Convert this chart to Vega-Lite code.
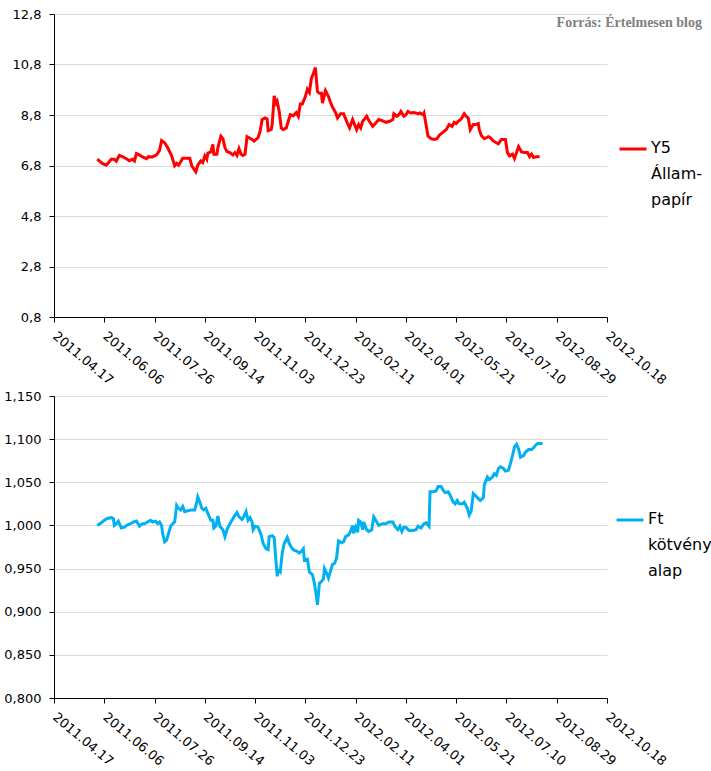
{
  "$schema": "https://vega.github.io/schema/vega-lite/v6.json",
  "padding": {"left": 3, "top": 8, "right": 4, "bottom": 4},
  "background": "white",
  "config": {
    "view": {"stroke": null},
    "axis": {
      "labelFont": "DejaVu Sans",
      "labelColor": "#000000",
      "domainColor": "#000000",
      "tickColor": "#000000",
      "tickSize": 5,
      "gridColor": "#D9D9D9",
      "title": null
    },
    "legend": {
      "labelFont": "DejaVu Sans",
      "labelFontSize": 16,
      "labelColor": "#000000",
      "padding": 0
    }
  },
  "datasets": {
    "y5": [
      {"d":"2011-05-30","v":7.05},{"d":"2011-06-04","v":6.88},{"d":"2011-06-08","v":6.81},{"d":"2011-06-13","v":7.05},{"d":"2011-06-16","v":7.05},{"d":"2011-06-18","v":6.97},{"d":"2011-06-21","v":7.20},{"d":"2011-06-24","v":7.15},{"d":"2011-06-28","v":7.07},{"d":"2011-07-01","v":6.99},{"d":"2011-07-04","v":7.05},{"d":"2011-07-06","v":6.98},{"d":"2011-07-08","v":7.27},{"d":"2011-07-11","v":7.22},{"d":"2011-07-14","v":7.14},{"d":"2011-07-18","v":7.07},{"d":"2011-07-20","v":7.15},{"d":"2011-07-24","v":7.14},{"d":"2011-07-28","v":7.22},{"d":"2011-07-31","v":7.40},
      {"d":"2011-08-02","v":7.79},{"d":"2011-08-05","v":7.70},{"d":"2011-08-08","v":7.51},{"d":"2011-08-12","v":7.18},{"d":"2011-08-15","v":6.79},{"d":"2011-08-17","v":6.88},{"d":"2011-08-19","v":6.81},{"d":"2011-08-23","v":7.09},{"d":"2011-08-27","v":7.09},{"d":"2011-08-30","v":7.09},{"d":"2011-09-01","v":6.79},{"d":"2011-09-05","v":6.55},{"d":"2011-09-07","v":6.81},{"d":"2011-09-10","v":6.98},{"d":"2011-09-12","v":6.92},{"d":"2011-09-14","v":7.18},{"d":"2011-09-16","v":7.05},{"d":"2011-09-17","v":7.29},{"d":"2011-09-20","v":7.34},{"d":"2011-09-22","v":7.64},{"d":"2011-09-23","v":7.25},{"d":"2011-09-26","v":7.25},{"d":"2011-09-27","v":7.51},{"d":"2011-09-30","v":7.96},
      {"d":"2011-10-02","v":7.86},{"d":"2011-10-04","v":7.51},{"d":"2011-10-06","v":7.35},{"d":"2011-10-09","v":7.31},{"d":"2011-10-12","v":7.22},{"d":"2011-10-14","v":7.31},{"d":"2011-10-16","v":7.20},{"d":"2011-10-18","v":7.47},{"d":"2011-10-20","v":7.25},{"d":"2011-10-22","v":7.20},{"d":"2011-10-24","v":7.25},{"d":"2011-10-26","v":7.94},{"d":"2011-10-31","v":7.83},{"d":"2011-11-02","v":7.77},{"d":"2011-11-06","v":7.90},{"d":"2011-11-08","v":8.16},{"d":"2011-11-10","v":8.62},{"d":"2011-11-13","v":8.68},{"d":"2011-11-15","v":8.64},{"d":"2011-11-16","v":8.18},{"d":"2011-11-19","v":8.22},{"d":"2011-11-20","v":8.42},{"d":"2011-11-22","v":9.56},{"d":"2011-11-24","v":9.27},{"d":"2011-11-25","v":9.34},{"d":"2011-11-27","v":8.94},{"d":"2011-11-29","v":8.29},
      {"d":"2011-12-01","v":8.22},{"d":"2011-12-04","v":8.29},{"d":"2011-12-06","v":8.55},{"d":"2011-12-08","v":8.81},{"d":"2011-12-11","v":8.77},{"d":"2011-12-14","v":8.90},{"d":"2011-12-16","v":8.75},{"d":"2011-12-18","v":9.24},{"d":"2011-12-20","v":9.24},{"d":"2011-12-23","v":9.53},{"d":"2011-12-25","v":9.82},{"d":"2011-12-27","v":9.69},{"d":"2011-12-29","v":10.25},{"d":"2011-12-31","v":10.45},{"d":"2012-01-02","v":10.68},{"d":"2012-01-04","v":9.73},{"d":"2012-01-06","v":9.66},{"d":"2012-01-08","v":9.66},{"d":"2012-01-09","v":9.27},{"d":"2012-01-12","v":9.77},{"d":"2012-01-15","v":9.53},{"d":"2012-01-17","v":9.30},{"d":"2012-01-19","v":9.11},{"d":"2012-01-22","v":8.90},{"d":"2012-01-24","v":8.68},{"d":"2012-01-27","v":8.85},{"d":"2012-01-30","v":8.85},
      {"d":"2012-02-03","v":8.46},{"d":"2012-02-05","v":8.29},{"d":"2012-02-08","v":8.62},{"d":"2012-02-10","v":8.42},{"d":"2012-02-12","v":8.22},{"d":"2012-02-14","v":8.42},{"d":"2012-02-16","v":8.29},{"d":"2012-02-18","v":8.55},{"d":"2012-02-22","v":8.75},{"d":"2012-02-24","v":8.59},{"d":"2012-02-28","v":8.35},{"d":"2012-03-02","v":8.48},{"d":"2012-03-05","v":8.62},{"d":"2012-03-09","v":8.57},{"d":"2012-03-12","v":8.51},{"d":"2012-03-16","v":8.55},{"d":"2012-03-19","v":8.62},{"d":"2012-03-20","v":8.85},{"d":"2012-03-23","v":8.75},{"d":"2012-03-25","v":8.81},{"d":"2012-03-27","v":8.94},{"d":"2012-03-30","v":8.75},
      {"d":"2012-04-01","v":8.81},{"d":"2012-04-03","v":8.94},{"d":"2012-04-06","v":8.88},{"d":"2012-04-09","v":8.90},{"d":"2012-04-13","v":8.85},{"d":"2012-04-15","v":8.88},{"d":"2012-04-18","v":8.81},{"d":"2012-04-19","v":8.88},{"d":"2012-04-21","v":8.42},{"d":"2012-04-23","v":7.96},{"d":"2012-04-26","v":7.86},{"d":"2012-04-29","v":7.83},{"d":"2012-05-02","v":7.86},{"d":"2012-05-04","v":7.99},{"d":"2012-05-08","v":8.12},{"d":"2012-05-11","v":8.22},{"d":"2012-05-14","v":8.42},{"d":"2012-05-17","v":8.35},{"d":"2012-05-19","v":8.51},{"d":"2012-05-21","v":8.46},{"d":"2012-05-23","v":8.55},{"d":"2012-05-26","v":8.64},{"d":"2012-05-29","v":8.85},{"d":"2012-05-31","v":8.75},
      {"d":"2012-06-02","v":8.68},{"d":"2012-06-04","v":8.22},{"d":"2012-06-07","v":8.42},{"d":"2012-06-09","v":8.42},{"d":"2012-06-12","v":8.46},{"d":"2012-06-13","v":8.22},{"d":"2012-06-15","v":7.99},{"d":"2012-06-18","v":7.86},{"d":"2012-06-22","v":7.94},{"d":"2012-06-24","v":7.90},{"d":"2012-06-27","v":7.77},{"d":"2012-06-30","v":7.70},{"d":"2012-07-02","v":7.66},{"d":"2012-07-05","v":7.83},{"d":"2012-07-09","v":7.83},{"d":"2012-07-11","v":7.31},{"d":"2012-07-13","v":7.18},{"d":"2012-07-16","v":7.25},{"d":"2012-07-18","v":7.08},{"d":"2012-07-20","v":7.31},{"d":"2012-07-22","v":7.55},{"d":"2012-07-25","v":7.34},{"d":"2012-07-28","v":7.31},{"d":"2012-07-31","v":7.31},{"d":"2012-08-02","v":7.15},{"d":"2012-08-04","v":7.25},{"d":"2012-08-06","v":7.12},{"d":"2012-08-09","v":7.15},{"d":"2012-08-12","v":7.15}
    ],
    "ft": [
      {"d":"2011-05-30","v":1.000},{"d":"2011-06-03","v":1.003},{"d":"2011-06-06","v":1.006},{"d":"2011-06-09","v":1.008},{"d":"2011-06-13","v":1.009},{"d":"2011-06-15","v":1.008},{"d":"2011-06-16","v":1.000},{"d":"2011-06-18","v":1.002},{"d":"2011-06-20","v":1.005},{"d":"2011-06-23","v":0.997},{"d":"2011-06-26","v":0.998},{"d":"2011-06-28","v":1.000},{"d":"2011-07-02","v":1.002},{"d":"2011-07-05","v":1.004},{"d":"2011-07-08","v":1.005},{"d":"2011-07-11","v":0.999},{"d":"2011-07-14","v":1.002},{"d":"2011-07-16","v":1.002},{"d":"2011-07-19","v":1.004},{"d":"2011-07-22","v":1.006},{"d":"2011-07-24","v":1.004},{"d":"2011-07-27","v":1.005},{"d":"2011-07-29","v":1.002},{"d":"2011-07-31","v":1.004},
      {"d":"2011-08-02","v":1.000},{"d":"2011-08-03","v":0.991},{"d":"2011-08-05","v":0.981},{"d":"2011-08-07","v":0.983},{"d":"2011-08-09","v":0.991},{"d":"2011-08-11","v":0.999},{"d":"2011-08-13","v":1.002},{"d":"2011-08-15","v":1.004},{"d":"2011-08-17","v":1.023},{"d":"2011-08-18","v":1.021},{"d":"2011-08-21","v":1.018},{"d":"2011-08-23","v":1.022},{"d":"2011-08-25","v":1.016},{"d":"2011-08-28","v":1.017},{"d":"2011-09-01","v":1.018},{"d":"2011-09-04","v":1.018},{"d":"2011-09-06","v":1.027},{"d":"2011-09-07","v":1.033},{"d":"2011-09-09","v":1.027},{"d":"2011-09-11","v":1.020},{"d":"2011-09-13","v":1.018},{"d":"2011-09-15","v":1.020},{"d":"2011-09-17","v":1.014},{"d":"2011-09-20","v":1.006},{"d":"2011-09-22","v":1.006},{"d":"2011-09-23","v":0.997},{"d":"2011-09-25","v":0.999},{"d":"2011-09-27","v":1.011},{"d":"2011-09-29","v":0.999},
      {"d":"2011-10-02","v":0.995},{"d":"2011-10-04","v":0.987},{"d":"2011-10-06","v":0.995},{"d":"2011-10-08","v":1.000},{"d":"2011-10-11","v":1.006},{"d":"2011-10-13","v":1.010},{"d":"2011-10-16","v":1.015},{"d":"2011-10-18","v":1.010},{"d":"2011-10-21","v":1.007},{"d":"2011-10-23","v":1.011},{"d":"2011-10-25","v":1.016},{"d":"2011-10-27","v":1.006},{"d":"2011-10-29","v":1.009},{"d":"2011-10-31","v":1.004},{"d":"2011-11-01","v":0.995},{"d":"2011-11-03","v":0.999},{"d":"2011-11-06","v":0.998},{"d":"2011-11-09","v":0.989},{"d":"2011-11-11","v":0.979},{"d":"2011-11-14","v":0.973},{"d":"2011-11-16","v":0.972},{"d":"2011-11-17","v":0.987},{"d":"2011-11-20","v":0.988},{"d":"2011-11-22","v":0.986},{"d":"2011-11-23","v":0.970},{"d":"2011-11-25","v":0.941},{"d":"2011-11-26","v":0.948},{"d":"2011-11-28","v":0.946},{"d":"2011-11-30","v":0.968},
      {"d":"2011-12-02","v":0.979},{"d":"2011-12-05","v":0.986},{"d":"2011-12-07","v":0.979},{"d":"2011-12-10","v":0.973},{"d":"2011-12-12","v":0.971},{"d":"2011-12-15","v":0.970},{"d":"2011-12-17","v":0.968},{"d":"2011-12-19","v":0.970},{"d":"2011-12-21","v":0.973},{"d":"2011-12-22","v":0.960},{"d":"2011-12-25","v":0.961},{"d":"2011-12-27","v":0.946},{"d":"2011-12-30","v":0.943},{"d":"2012-01-01","v":0.933},{"d":"2012-01-03","v":0.918},{"d":"2012-01-04","v":0.908},{"d":"2012-01-06","v":0.933},{"d":"2012-01-08","v":0.935},{"d":"2012-01-10","v":0.938},{"d":"2012-01-11","v":0.950},{"d":"2012-01-13","v":0.945},{"d":"2012-01-15","v":0.939},{"d":"2012-01-17","v":0.947},{"d":"2012-01-19","v":0.955},{"d":"2012-01-21","v":0.956},{"d":"2012-01-23","v":0.962},{"d":"2012-01-25","v":0.982},{"d":"2012-01-28","v":0.980},{"d":"2012-01-30","v":0.981},
      {"d":"2012-02-01","v":0.987},{"d":"2012-02-04","v":0.989},{"d":"2012-02-06","v":0.993},{"d":"2012-02-08","v":1.000},{"d":"2012-02-09","v":0.991},{"d":"2012-02-11","v":0.998},{"d":"2012-02-13","v":0.992},{"d":"2012-02-14","v":1.006},{"d":"2012-02-16","v":1.004},{"d":"2012-02-18","v":0.995},{"d":"2012-02-19","v":1.004},{"d":"2012-02-22","v":0.995},{"d":"2012-02-24","v":0.993},{"d":"2012-02-27","v":0.995},{"d":"2012-02-29","v":1.010},{"d":"2012-03-03","v":1.004},{"d":"2012-03-05","v":1.000},{"d":"2012-03-09","v":1.002},{"d":"2012-03-12","v":1.002},{"d":"2012-03-15","v":1.004},{"d":"2012-03-19","v":1.004},{"d":"2012-03-21","v":0.999},{"d":"2012-03-24","v":0.995},{"d":"2012-03-26","v":0.999},{"d":"2012-03-28","v":0.993},{"d":"2012-03-30","v":0.998},
      {"d":"2012-04-01","v":0.998},{"d":"2012-04-04","v":0.994},{"d":"2012-04-08","v":0.994},{"d":"2012-04-11","v":0.995},{"d":"2012-04-13","v":0.999},{"d":"2012-04-16","v":0.997},{"d":"2012-04-19","v":1.002},{"d":"2012-04-21","v":1.003},{"d":"2012-04-24","v":0.999},{"d":"2012-04-25","v":1.039},{"d":"2012-04-28","v":1.039},{"d":"2012-05-01","v":1.040},{"d":"2012-05-03","v":1.045},{"d":"2012-05-06","v":1.045},{"d":"2012-05-08","v":1.041},{"d":"2012-05-10","v":1.038},{"d":"2012-05-13","v":1.039},{"d":"2012-05-15","v":1.035},{"d":"2012-05-18","v":1.027},{"d":"2012-05-20","v":1.025},{"d":"2012-05-22","v":1.029},{"d":"2012-05-24","v":1.025},{"d":"2012-05-27","v":1.025},{"d":"2012-05-29","v":1.027},
      {"d":"2012-06-01","v":1.020},{"d":"2012-06-03","v":1.012},{"d":"2012-06-05","v":1.017},{"d":"2012-06-07","v":1.037},{"d":"2012-06-09","v":1.035},{"d":"2012-06-12","v":1.031},{"d":"2012-06-14","v":1.029},{"d":"2012-06-17","v":1.032},{"d":"2012-06-18","v":1.047},{"d":"2012-06-21","v":1.056},{"d":"2012-06-23","v":1.053},{"d":"2012-06-26","v":1.056},{"d":"2012-06-28","v":1.060},{"d":"2012-06-30","v":1.058},{"d":"2012-07-02","v":1.066},{"d":"2012-07-04","v":1.068},{"d":"2012-07-07","v":1.066},{"d":"2012-07-09","v":1.063},{"d":"2012-07-12","v":1.064},{"d":"2012-07-14","v":1.072},{"d":"2012-07-16","v":1.081},{"d":"2012-07-18","v":1.091},{"d":"2012-07-20","v":1.094},{"d":"2012-07-22","v":1.089},{"d":"2012-07-24","v":1.079},{"d":"2012-07-27","v":1.081},{"d":"2012-07-29","v":1.085},{"d":"2012-08-01","v":1.088},{"d":"2012-08-04","v":1.088},{"d":"2012-08-06","v":1.090},{"d":"2012-08-08","v":1.093},{"d":"2012-08-10","v":1.095},{"d":"2012-08-12","v":1.095},{"d":"2012-08-15","v":1.095}
    ]
  },
  "vconcat": [
    {
      "width": 553,
      "height": 303,
      "title": {
        "text": "Forrás: Értelmesen blog",
        "anchor": "end",
        "frame": "bounds",
        "offset": -22,
        "font": "Liberation Serif",
        "fontSize": 14,
        "fontWeight": "bold",
        "color": "#7F7F7F"
      },
      "data": {"name": "y5"},
      "mark": {"type": "line", "strokeWidth": 3, "interpolate": "linear"},
      "encoding": {
        "x": {
          "field": "d",
          "type": "temporal",
          "scale": {"type": "utc", "domain": [{"year": 2011, "month": 4, "date": 17, "utc": true}, {"year": 2012, "month": 10, "date": 18, "utc": true}]},
          "axis": {
            "grid": false,
            "labelExpr": "utcFormat(datum.value, '%Y.%m.%d')",
            "labelAngle": 40,
            "labelAlign": "left",
            "labelBaseline": "middle",
            "labelFontSize": 13,
            "labelPadding": 12,
            "labelOverlap": false,
            "values": [
              {"year": 2011, "month": 4, "date": 17, "utc": true},
              {"year": 2011, "month": 6, "date": 6, "utc": true},
              {"year": 2011, "month": 7, "date": 26, "utc": true},
              {"year": 2011, "month": 9, "date": 14, "utc": true},
              {"year": 2011, "month": 11, "date": 3, "utc": true},
              {"year": 2011, "month": 12, "date": 23, "utc": true},
              {"year": 2012, "month": 2, "date": 11, "utc": true},
              {"year": 2012, "month": 4, "date": 1, "utc": true},
              {"year": 2012, "month": 5, "date": 21, "utc": true},
              {"year": 2012, "month": 7, "date": 10, "utc": true},
              {"year": 2012, "month": 8, "date": 29, "utc": true},
              {"year": 2012, "month": 10, "date": 18, "utc": true}
            ]
          }
        },
        "y": {
          "field": "v",
          "type": "quantitative",
          "scale": {"domain": [0.8, 12.8], "nice": false, "zero": false},
          "axis": {
            "values": [0.8, 2.8, 4.8, 6.8, 8.8, 10.8, 12.8],
            "labelExpr": "replace(format(datum.value, '.1f'), '.', ',')",
            "labelFontSize": 13,
            "labelPadding": 8
          }
        },
        "color": {
          "datum": "Y5 Állam-papír",
          "type": "nominal",
          "scale": {"range": ["#FF0000"]},
          "legend": {
            "title": null,
            "orient": "none",
            "legendX": 564,
            "legendY": 120,
            "symbolType": "stroke",
            "symbolSize": 729,
            "symbolStrokeWidth": 3,
            "labelOffset": 3,
            "labelExpr": "split(replace(datum.label, '-', '- '), ' ')",
            "encode": {"labels": {"update": {"lineHeight": {"value": 26}, "baseline": {"value": "top"}, "dy": {"value": -9}}}}
          }
        }
      }
    },
    {
      "width": 553,
      "height": 302,
      "data": {"name": "ft"},
      "mark": {"type": "line", "strokeWidth": 3, "interpolate": "linear"},
      "encoding": {
        "x": {
          "field": "d",
          "type": "temporal",
          "scale": {"type": "utc", "domain": [{"year": 2011, "month": 4, "date": 17, "utc": true}, {"year": 2012, "month": 10, "date": 18, "utc": true}]},
          "axis": {
            "grid": false,
            "labelExpr": "utcFormat(datum.value, '%Y.%m.%d')",
            "labelAngle": 40,
            "labelAlign": "left",
            "labelBaseline": "middle",
            "labelFontSize": 13,
            "labelPadding": 12,
            "labelOverlap": false,
            "values": [
              {"year": 2011, "month": 4, "date": 17, "utc": true},
              {"year": 2011, "month": 6, "date": 6, "utc": true},
              {"year": 2011, "month": 7, "date": 26, "utc": true},
              {"year": 2011, "month": 9, "date": 14, "utc": true},
              {"year": 2011, "month": 11, "date": 3, "utc": true},
              {"year": 2011, "month": 12, "date": 23, "utc": true},
              {"year": 2012, "month": 2, "date": 11, "utc": true},
              {"year": 2012, "month": 4, "date": 1, "utc": true},
              {"year": 2012, "month": 5, "date": 21, "utc": true},
              {"year": 2012, "month": 7, "date": 10, "utc": true},
              {"year": 2012, "month": 8, "date": 29, "utc": true},
              {"year": 2012, "month": 10, "date": 18, "utc": true}
            ]
          }
        },
        "y": {
          "field": "v",
          "type": "quantitative",
          "scale": {"domain": [0.8, 1.15], "nice": false, "zero": false},
          "axis": {
            "values": [0.8, 0.85, 0.9, 0.95, 1.0, 1.05, 1.1, 1.15],
            "labelExpr": "replace(format(datum.value, '.3f'), '.', ',')",
            "labelFontSize": 13,
            "labelPadding": 8
          }
        },
        "color": {
          "datum": "Ft kötvény alap",
          "type": "nominal",
          "scale": {"range": ["#00B0F0"]},
          "legend": {
            "title": null,
            "orient": "none",
            "legendX": 561,
            "legendY": 109,
            "symbolType": "stroke",
            "symbolSize": 729,
            "symbolStrokeWidth": 3,
            "labelOffset": 3,
            "labelExpr": "split(datum.label, ' ')",
            "encode": {"labels": {"update": {"lineHeight": {"value": 26}, "baseline": {"value": "top"}, "dy": {"value": -9}}}}
          }
        }
      }
    }
  ],
  "spacing": 79,
  "bounds": "flush",
  "resolve": {"scale": {"color": "independent", "x": "independent", "y": "independent"}, "legend": {"color": "independent"}}
}
